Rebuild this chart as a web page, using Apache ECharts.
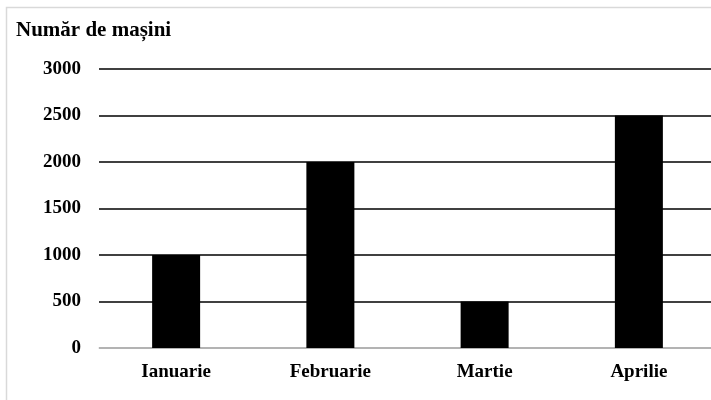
<!DOCTYPE html>
<html>
<head>
<meta charset="utf-8">
<script src="https://cdn.jsdelivr.net/npm/echarts@6/dist/echarts.min.js"></script>
<style>html,body{margin:0;padding:0;background:#fff}#c{width:711px;height:400px}</style>
</head>
<body>
<div id="c"></div>
<script>
var titleText = 'Număr de mașini';
var categories = ['Ianuarie', 'Februarie', 'Martie', 'Aprilie'];
var values = [1000, 2000, 500, 2500];
var yTicks = [0, 500, 1000, 1500, 2000, 2500, 3000];

var serif = '"Liberation Serif", "Times New Roman", serif';
var chart = echarts.init(document.getElementById('c'), null, {renderer: 'canvas'});
chart.setOption({
  animation: false,
  backgroundColor: '#fff',
  graphic: [{
    type: 'rect',
    shape: {x: 6.5, y: 7.5, width: 720, height: 420},
    style: {fill: 'none', stroke: '#d9d9d9', lineWidth: 1.5},
    silent: true, z: -1
  }],
  title: {
    text: titleText,
    left: 11, top: 15,
    textStyle: {fontFamily: serif, fontWeight: 'bold', fontSize: 21, color: '#000'}
  },
  grid: {left: 99, top: 69, right: -5, height: 279, containLabel: false, outerBoundsMode: 'none'},
  xAxis: {
    type: 'category',
    data: categories,
    axisLine: {show: true, lineStyle: {color: '#d9d9d9', width: 1.5}},
    axisTick: {show: false},
    axisLabel: {fontFamily: serif, fontWeight: 'bold', fontSize: 19, color: '#000', margin: 15}
  },
  yAxis: {
    type: 'value',
    min: yTicks[0], max: yTicks[yTicks.length - 1], interval: 500,
    axisLine: {show: false},
    axisTick: {show: false},
    splitLine: {lineStyle: {color: '#000', width: 1.5}},
    axisLabel: {fontFamily: serif, fontWeight: 'bold', fontSize: 19, color: '#000', margin: 18,
      formatter: function (v) { return String(v); }}
  },
  series: [{
    type: 'bar',
    data: values,
    barWidth: 48,
    itemStyle: {color: '#000'},
    z: 3
  }]
});
</script>
</body>
</html>
